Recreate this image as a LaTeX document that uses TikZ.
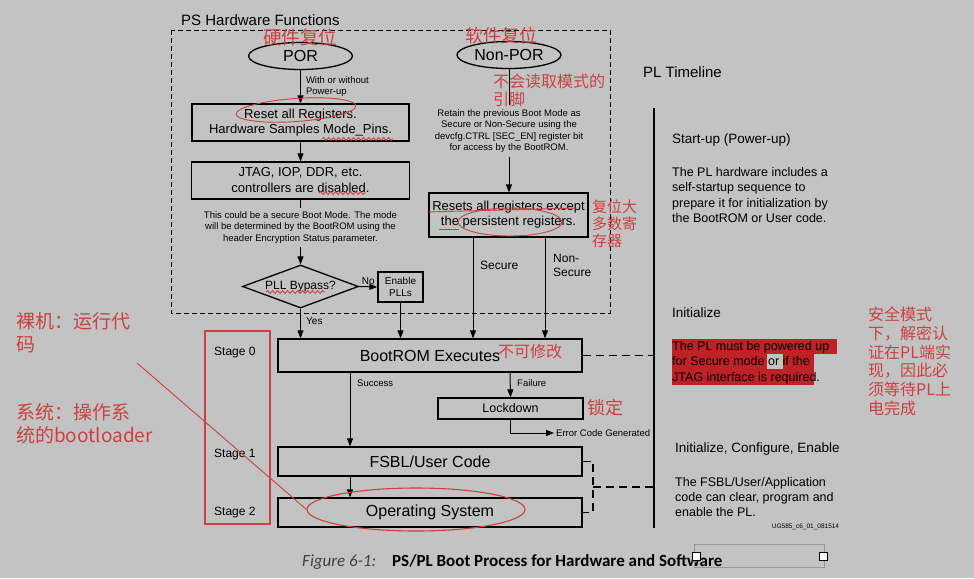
\documentclass[tikz,border=0pt]{standalone}
\usepackage{fontspec}
\setmainfont{Liberation Sans}
\newfontfamily\cjk{Noto Sans CJK SC}
\newfontfamily\capfont{Carlito}
\usepackage{tikz}
\usetikzlibrary{
    positioning,
    arrows.meta,
    shapes.geometric,
    decorations.pathmorphing
}
\definecolor{pageGray}{RGB}{195,195,195}
\definecolor{noteRed}{RGB}{204,64,64}
\definecolor{markRed}{RGB}{190,34,38}
\definecolor{selGray}{RGB}{150,150,150}

\tikzset{
    flowbox/.style={draw, line width=1.3pt, inner sep=0pt, align=center},
    resetoval/.style={ellipse, draw, line width=1.3pt, minimum width=104pt, minimum height=27pt,
        inner sep=0pt, font=\fontsize{16}{18}\selectfont},
    flowline/.style={line width=1pt},
    flowarrow/.style={line width=1pt, -{Triangle[length=8pt, width=6pt]}},
    linkdash/.style={line width=1.4pt, dash pattern=on 8pt off 5pt},
    smalltext/.style={font=\fontsize{9.5}{11.5}\selectfont, inner sep=0pt, align=center},
    plaintext/.style={inner sep=0pt, align=left, anchor=west},
    notetext/.style={text=noteRed, inner sep=0pt, align=left},
    scribble/.style={noteRed, line width=0.9pt},
    wavy/.style={noteRed, line width=0.9pt, decorate,
        decoration={snake, amplitude=1.4pt, segment length=5pt}}
}

\begin{document}
\begin{tikzpicture}[x=1pt, y=-1pt]
    \fill[pageGray] (0,0) rectangle (974,578);
    \useasboundingbox (0,0) rectangle (974,578);

    % PS hardware functions
    \draw[line width=0.8pt, dash pattern=on 5pt off 3pt] (171,30) rectangle (610,313);
    \node[plaintext, font=\fontsize{15}{18}\selectfont] (pstitle) at (181,20) {PS Hardware Functions};

    \node[resetoval] (por) at (300.5,56) {POR};
    \node[resetoval] (nonpor) at (509,55) {Non-POR};

    \node[flowbox, minimum width=217pt, minimum height=37pt, font=\fontsize{13}{15}\selectfont]
        (resetall) at (300.5,122.5) {Reset all Registers.\\Hardware Samples Mode\_Pins.};
    \node[flowbox, minimum width=218pt, minimum height=37pt, font=\fontsize{13}{16}\selectfont]
        (jtag) at (300.5,180.5) {JTAG, IOP, DDR, etc.\\controllers are disabled.};
    \node[smalltext, inner sep=3pt] (securenote) at (300.5,227.5)
        {This could be a secure Boot Mode. The mode\\will be determined by the BootROM using the\\header Encryption Status parameter.};
    \node[diamond, draw, line width=1.3pt, aspect=2.7, minimum width=116pt, minimum height=43pt,
        inner sep=0pt, font=\fontsize{12}{14}\selectfont] (pll) at (300.5,286.5) {PLL Bypass?};
    \node[flowbox, minimum width=45pt, minimum height=30pt, font=\fontsize{10}{12}\selectfont]
        (enpll) at (400.5,287) {Enable\\PLLs};

    \node[smalltext, inner sep=4pt] (retain) at (509,131)
        {Retain the previous Boot Mode as\\Secure or Non-Secure using the\\devcfg.CTRL [SEC\_EN] register bit\\for access by the BootROM.};
    \node[flowbox, minimum width=159pt, minimum height=44pt, font=\fontsize{13}{15}\selectfont]
        (resets) at (508.5,215) {Resets all registers except\\the persistent registers.};

    % boot stages
    \node[flowbox, minimum width=304pt, minimum height=33pt, font=\fontsize{16}{18}\selectfont]
        (bootrom) at (430,355.5) {BootROM Executes};
    \node[flowbox, minimum width=145pt, minimum height=21pt, font=\fontsize{12.5}{14}\selectfont]
        (lockdown) at (510.5,408.5) {Lockdown};
    \node[flowbox, minimum width=304pt, minimum height=29pt, font=\fontsize{16}{18}\selectfont]
        (fsbl) at (430,461.5) {FSBL/User Code};
    \node[flowbox, minimum width=304pt, minimum height=29pt, font=\fontsize{16}{18}\selectfont]
        (os) at (430,512.5) {Operating System};
    \node[smalltext, anchor=west, inner sep=2pt] (errtext) at (554,433) {Error Code Generated};

    \draw[flowarrow] (por.south) -- (por.south |- resetall.north)
        node[pos=0.5, right=5pt, smalltext, align=left] (powerlbl) {With or without\\Power-up};
    \draw[flowarrow] (resetall.south) -- (resetall.south |- jtag.north);
    \draw[flowline] (jtag.south) -- (jtag.south |- securenote.north);
    \draw[flowarrow] (securenote.south) -- (securenote.south |- pll.north);
    \draw[flowarrow] (pll.east) -- (enpll.west)
        node[midway, above=2pt, font=\fontsize{10}{12}\selectfont, inner sep=0pt] (nolbl) {No};
    \draw[flowarrow] (pll.south) -- (pll.south |- bootrom.north);
    \node[plaintext, font=\fontsize{10}{12}\selectfont] (yeslbl) at (306,321) {Yes};
    \draw[flowarrow] (enpll.south) -- (enpll.south |- bootrom.north);

    \draw[flowline] (nonpor.south) -- (retain.north);
    \draw[flowarrow] (retain.south) -- (retain.south |- resets.north);
    \draw[flowarrow] ([xshift=-35.5pt]resets.south) -- ([xshift=-35.5pt]resets.south |- bootrom.north);
    \draw[flowarrow] ([xshift=36.5pt]resets.south) -- ([xshift=36.5pt]resets.south |- bootrom.north);
    \node[plaintext, font=\fontsize{12}{14}\selectfont] (securelbl) at (480,265) {Secure};
    \node[plaintext, font=\fontsize{12}{14}\selectfont] (nonsecurelbl) at (553,265) {Non-\\Secure};

    \draw[flowarrow] ([xshift=-80pt]bootrom.south) -- ([xshift=-80pt]fsbl.north);
    \node[plaintext, font=\fontsize{9.5}{11}\selectfont] (successlbl) at (357,383) {Success};
    \draw[flowarrow] ([xshift=80pt]bootrom.south) -- (lockdown.north);
    \node[plaintext, font=\fontsize{9.5}{11}\selectfont] (failurelbl) at (517,383) {Failure};
    \draw[flowarrow] (lockdown.south) |- (errtext.west);
    \draw[flowarrow] ([xshift=-80pt]fsbl.south) -- ([xshift=-80pt]os.north);

    % PL timeline
    \node[plaintext, font=\fontsize{15}{18}\selectfont] (pltitle) at (643,72) {PL Timeline};
    \coordinate (tltop) at (654,108);
    \coordinate (tlbot) at (654,528);
    \draw[line width=2pt] (tltop) -- (tlbot);
    \draw[linkdash] (bootrom.east) -- (bootrom.east -| tltop);
    \coordinate (brk) at (593,487);
    \draw[linkdash] (fsbl.east) -| (brk) |- (os.east);
    \draw[linkdash] (brk) -- (brk -| tltop);

    \node[plaintext, font=\fontsize{13.5}{16}\selectfont] (startup) at (672,140) {Start-up (Power-up)};
    \node[plaintext, font=\fontsize{12.5}{15.3}\selectfont] (startuptxt) at (672,195)
        {The PL hardware includes a\\self-startup sequence to\\prepare it for initialization by\\the BootROM or User code.};

    \fill[markRed] (672,339) rectangle (837,354);
    \fill[markRed] (672,354) rectangle (767,370);
    \fill[markRed] (783,354) rectangle (814,370);
    \fill[markRed] (672,369) rectangle (814,385);
    \node[plaintext, font=\fontsize{13.5}{16}\selectfont] (initlbl) at (672,313) {Initialize};
    \node[plaintext, font=\fontsize{12.5}{15.5}\selectfont] (inittxt) at (672,362.5)
        {The PL must be powered up\\for Secure mode or if the\\JTAG interface is required.};

    \node[plaintext, font=\fontsize{13.5}{16}\selectfont] (configlbl) at (675,449) {Initialize, Configure, Enable};
    \node[plaintext, font=\fontsize{12.5}{15}\selectfont] (configtxt) at (675,497)
        {The FSBL/User/Application\\code can clear, program and\\enable the PL.};
    \node[inner sep=0pt, font=\fontsize{6.5}{8}\selectfont] (figid) at (805.5,527) {UG585\_c6\_01\_081514};

    % stage marks
    \draw[scribble, line width=1.3pt] (205,331) rectangle (270,524);
    \node[plaintext, font=\fontsize{12}{14}\selectfont] (stage0) at (214,353) {Stage 0};
    \node[plaintext, font=\fontsize{12}{14}\selectfont] (stage1) at (214,455) {Stage 1};
    \node[plaintext, font=\fontsize{12}{14}\selectfont] (stage2) at (214,513) {Stage 2};

    % red notes
    \node[notetext, font=\cjk\fontsize{18.5}{20}\selectfont] (hwnote) at (300,37) {硬件复位};
    \node[notetext, font=\cjk\fontsize{18}{20}\selectfont] (swnote) at (501,36) {软件复位};
    \node[notetext, anchor=north west, font=\cjk\fontsize{16}{18}\selectfont] (pinnote) at (493,74) {不会读取模式的\\引脚};
    \node[notetext, anchor=north west, font=\cjk\fontsize{15}{16.7}\selectfont] (regnote) at (592,200) {复位大\\多数寄\\存器};
    \node[notetext, font=\cjk\fontsize{16}{18}\selectfont] (romnote) at (530,351) {不可修改};
    \node[notetext, font=\cjk\fontsize{18}{20}\selectfont] (locknote) at (605,408) {锁定};
    \node[notetext, anchor=north west, font=\cjk\fontsize{16}{18.7}\selectfont] (plnote) at (868,307)
        {安全模式\\下，解密认\\证在PL端实\\现，因此必\\须等待PL上\\电完成};
    \node[notetext, anchor=north west, font=\cjk\fontsize{19}{23}\selectfont] (barenote) at (16,312) {裸机：运行代\\码};
    \node[notetext, anchor=north west, font=\cjk\fontsize{19}{23}\selectfont] (sysnote) at (16,403) {系统：操作系\\统的bootloader};

    \draw[scribble, rotate around={4:(296,110)}] (296,110) ellipse (60pt and 11.5pt);
    \draw[wavy] (322,139) -- (393,139);
    \draw[wavy] (319,193) -- (366,193);
    \draw[wavy] (266,292) -- (325,292);
    \draw[scribble] (427,212) -- (577,208);
    \draw[scribble] (439,229) -- (459,229);
    \draw[scribble] (510,222) ellipse (52pt and 14pt);
    \node[ellipse, draw=noteRed, line width=1.1pt, minimum width=218pt, minimum height=43pt] (osring) at (416,509.5) {};
    \coordinate (ptr) at (137,363);
    \draw[scribble] (ptr) -- (osring.west);

    % caption
    \node[anchor=base west, inner sep=0pt, text=black!75, font=\capfont\itshape\fontsize{17}{20}\selectfont] (capnum) at (302,566) {Figure 6-1:};
    \node[anchor=base west, inner sep=0pt, font=\capfont\bfseries\fontsize{17}{20}\selectfont] (captitle) at (392,566) {PS/PL Boot Process for Hardware and Software};
    \draw[selGray, line width=1pt] (694,544) rectangle (824,567);
    \draw[fill=white, line width=0.8pt] (692,552) rectangle (700,560);
    \draw[fill=white, line width=0.8pt] (819,552) rectangle (827,560);
\end{tikzpicture}
\end{document}
